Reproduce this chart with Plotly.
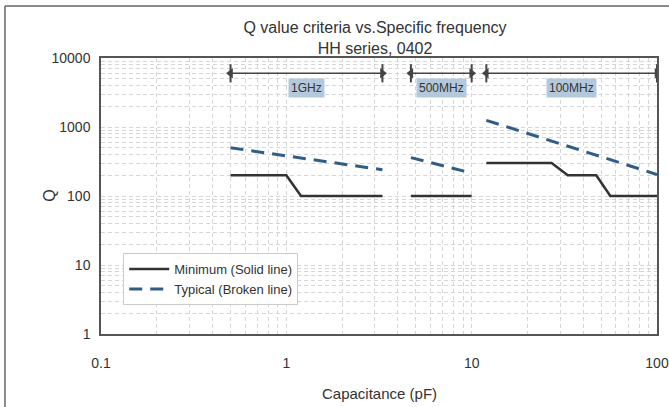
import plotly.graph_objects as go
import numpy as np

# ---- data ----
band_names = ["1GHz", "500MHz", "100MHz"]
band_start = [0.5, 4.7, 12]
band_end = [3.3, 10, 100]

min_1g_x = [0.5, 1.0, 1.2, 3.3]
min_1g_y = [200, 200, 100, 100]
typ_1g_x = [0.5, 3.3]
typ_1g_y = [500, 240]

min_500m_x = [4.7, 10]
min_500m_y = [100, 100]
typ_500m_x = [4.7, 10]
typ_500m_y = [360, 215]

min_100m_x = [12, 27, 33, 47, 56, 100]
min_100m_y = [300, 300, 200, 200, 100, 100]
typ_100m_x = [12, 100]
typ_100m_y = [1250, 205]

arrow_q = 6000
label_q = 3700

x_ticks = [0.1, 1, 10, 100]
y_ticks = [1, 10, 100, 1000, 10000]

NARROW = "Liberation Sans Narrow, Arial Narrow, Liberation Sans, sans-serif"
SANS = "Liberation Sans, Arial, sans-serif"
MIN_COLOR = "#333333"
TYP_COLOR = "#2f5d87"

fig = go.Figure()

mins = [(min_1g_x, min_1g_y), (min_500m_x, min_500m_y), (min_100m_x, min_100m_y)]
typs = [(typ_1g_x, typ_1g_y), (typ_500m_x, typ_500m_y), (typ_100m_x, typ_100m_y)]

for i, (xs, ys) in enumerate(mins):
    fig.add_trace(go.Scatter(x=xs, y=ys, mode="lines",
                             line=dict(color=MIN_COLOR, width=2.5),
                             name="Minimum (Solid line)", legendgroup="min",
                             showlegend=(i == 0)))
for i, (xs, ys) in enumerate(typs):
    fig.add_trace(go.Scatter(x=xs, y=ys, mode="lines",
                             line=dict(color=TYP_COLOR, width=3, dash="13px,8px"),
                             name="Typical (Broken line)", legendgroup="typ",
                             showlegend=(i == 0)))

# band arrows
for name, s, e in zip(band_names, band_start, band_end):
    fig.add_trace(go.Scatter(x=[s, e], y=[arrow_q, arrow_q], mode="lines+markers",
                             line=dict(color="#444444", width=1.5),
                             marker=dict(symbol=["triangle-left", "triangle-right"],
                                         size=9, color="#444444"),
                             showlegend=False, hoverinfo="skip"))
    fig.add_trace(go.Scatter(x=[s, e], y=[arrow_q, arrow_q], mode="markers",
                             marker=dict(symbol="line-ns", size=13,
                                         line=dict(color="#444444", width=2)),
                             showlegend=False, hoverinfo="skip"))
    fig.add_annotation(x=np.log10(np.sqrt(s * e)), y=np.log10(label_q),
                       xref="x", yref="y", text=name, showarrow=False,
                       bgcolor="#b3c8db", borderpad=2,
                       font=dict(family=NARROW, size=12, color="#333333"))

grid = dict(gridcolor="#d6d6d6", griddash="4px,3px", gridwidth=1)

fig.update_xaxes(type="log", range=[-1, 2], tickvals=x_ticks,
                 ticktext=[str(v) for v in x_ticks], automargin=False,
                 showline=True, linecolor="#555555", linewidth=1.5, mirror=True,
                 ticks="outside", ticklen=15, tickcolor="rgba(0,0,0,0)",
                 tickfont=dict(family=SANS, size=14, color="#333333"),
                 showgrid=True, **grid,
                 minor=dict(dtick="D1", showgrid=True, **grid),
                 zeroline=False)
fig.update_yaxes(type="log", range=[0, 4], tickvals=y_ticks,
                 ticktext=[str(v) for v in y_ticks], automargin=False,
                 showline=True, linecolor="#555555", linewidth=1.5, mirror=True,
                 ticks="outside", ticklen=6, tickcolor="rgba(0,0,0,0)",
                 tickfont=dict(family=SANS, size=14, color="#333333"),
                 showgrid=True, **grid,
                 minor=dict(dtick="D1", showgrid=True, **grid),
                 zeroline=False)

fig.add_annotation(x=0.5, y=-0.217, xref="paper", yref="paper",
                   text="Capacitance (pF)", showarrow=False, yanchor="middle",
                   font=dict(family=NARROW, size=15, color="#333333"))
fig.add_annotation(x=-0.113, y=0.5, xref="paper", yref="paper",
                   text="Q", showarrow=False, textangle=-90,
                   font=dict(family=NARROW, size=16, color="#333333"))

# outer frame (left and top edges visible)
fig.add_shape(type="line", xref="paper", yref="paper",
              x0=-0.1727, x1=-0.1727, y0=-0.3, y1=1.1884,
              line=dict(color="#666666", width=1.5))
fig.add_shape(type="line", xref="paper", yref="paper",
              x0=-0.1727, x1=1.2, y0=1.1884, y1=1.1884,
              line=dict(color="#666666", width=1.5))

fig.update_layout(
    width=669, height=407,
    margin=dict(l=101, r=12, t=58, b=73),
    paper_bgcolor="white", plot_bgcolor="white",
    title=dict(text="Q value criteria vs.Specific frequency<br>HH series, 0402",
               x=375 / 669, xanchor="center", y=1 - 33 / 407, yanchor="middle",
               font=dict(family=SANS, size=16, color="#333333")),
    legend=dict(x=0.04, y=0.293, xanchor="left", yanchor="top",
                bgcolor="white", bordercolor="#cccccc", borderwidth=1,
                itemwidth=40, tracegroupgap=0,
                font=dict(family=NARROW, size=13, color="#333333")),
)

fig.write_html("out.html", config={"displayModeBar": False},
               post_script=("document.body.style.margin='0';"
                            "document.body.style.padding='0';"
                            "document.body.style.overflow='hidden';"
                            "document.documentElement.style.overflow='hidden';"))
